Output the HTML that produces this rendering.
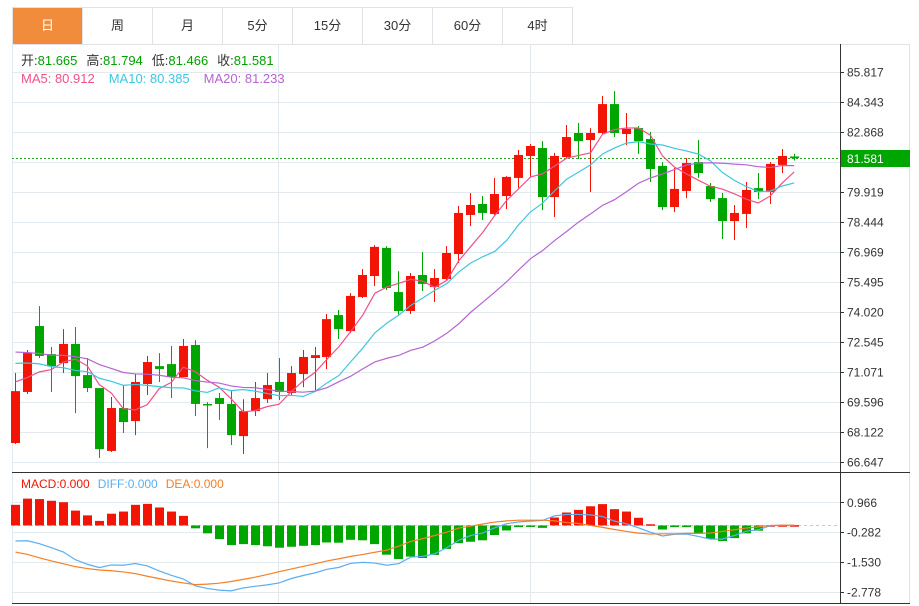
<!DOCTYPE html>
<html><head><meta charset="utf-8"><style>
body{margin:0;background:#fff;width:919px;height:606px;overflow:hidden;font-family:"Liberation Sans","Noto Sans CJK SC",sans-serif}
#tabs{position:absolute;left:12px;top:7px;height:36px;display:flex;border:1px solid #dfe3e8;border-right:none}
.tab{width:69px;height:36px;border-right:1px solid #dfe3e8;text-align:center;line-height:36px;font-size:13px;color:#333;cursor:pointer}
.tab.on{background:#f08c3c;color:#fff}
svg{position:absolute;left:0;top:0}
</style></head><body>
<div id="tabs">
<div class="tab on">日</div>
<div class="tab">周</div>
<div class="tab">月</div>
<div class="tab">5分</div>
<div class="tab">15分</div>
<div class="tab">30分</div>
<div class="tab">60分</div>
<div class="tab">4时</div>
</div>
<svg id="chart" width="919" height="606" font-family="Liberation Sans, Noto Sans CJK SC, sans-serif"></svg>
<script>
const opens=[67.58,70.09,73.33,71.95,71.51,72.45,70.92,70.28,67.19,69.30,68.66,70.48,71.36,71.46,70.82,72.40,69.50,69.79,69.50,67.92,69.15,69.74,70.58,70.04,70.97,71.76,71.81,73.87,73.08,74.76,75.79,77.17,75.00,74.07,75.84,75.25,75.64,76.87,78.79,79.33,78.84,79.72,80.61,81.69,82.08,79.67,81.64,82.82,82.47,82.82,84.24,82.77,83.06,82.52,81.20,79.18,79.97,81.39,80.21,79.62,78.49,78.84,80.11,79.92,81.25,81.665];
const highs=[71.02,72.15,74.31,72.30,73.18,73.28,71.76,70.28,69.84,70.43,70.97,71.86,72.00,72.35,72.69,72.64,69.59,70.04,70.13,69.74,70.58,71.02,71.76,71.36,72.15,72.30,73.92,74.12,74.95,76.13,77.31,77.26,76.03,75.94,76.97,76.13,77.26,79.23,79.87,79.72,80.61,80.70,81.98,82.28,82.42,81.84,83.21,83.31,83.06,84.64,84.88,83.80,83.16,82.87,81.39,81.10,81.59,82.47,80.36,79.87,79.28,80.41,80.85,81.39,82.03,81.794];
const lows=[67.53,69.99,71.76,70.09,71.02,69.05,70.09,66.85,67.14,68.07,67.97,69.94,70.58,69.79,70.82,68.91,67.33,68.71,67.48,67.04,68.91,69.55,69.69,69.94,70.33,70.18,71.22,72.69,72.99,74.71,75.30,75.10,73.87,73.92,75.05,74.51,75.55,76.43,78.25,78.54,78.79,79.08,80.11,80.66,79.03,78.69,81.59,81.54,79.92,82.77,82.62,82.23,81.79,80.41,79.03,78.93,79.62,80.61,79.43,77.61,77.56,78.15,79.57,79.33,80.85,81.466];
const closes=[70.13,72.00,71.86,71.36,72.45,70.87,70.28,67.28,69.30,68.61,70.58,71.56,71.22,70.82,72.35,69.50,69.45,69.50,67.97,69.15,69.79,70.43,70.09,71.02,71.81,71.90,73.67,73.18,74.81,75.84,77.22,75.20,74.07,75.79,75.40,75.69,76.92,78.89,79.28,78.89,79.82,80.66,81.74,82.18,79.67,81.69,82.62,82.42,82.82,84.24,82.82,83.02,82.42,81.05,79.18,80.07,81.34,80.85,79.57,78.49,78.89,80.02,79.92,81.30,81.69,81.581];
const prevCloses=[72.5,72.8,73.0,72.6,72.2,72.4,72.9,73.1,72.6,72.0,71.8,72.3,72.7,73.0,72.2,70.9,70.5,70.8,70.6];
const macdHist=[0.86,1.12,1.10,1.03,0.97,0.62,0.42,0.19,0.49,0.58,0.86,0.90,0.75,0.58,0.40,-0.12,-0.33,-0.57,-0.82,-0.78,-0.82,-0.87,-0.93,-0.89,-0.85,-0.82,-0.71,-0.72,-0.60,-0.62,-0.78,-1.22,-1.40,-1.30,-1.36,-1.23,-0.98,-0.74,-0.68,-0.62,-0.40,-0.21,-0.07,-0.01,-0.10,0.33,0.54,0.65,0.80,0.89,0.68,0.58,0.32,0.05,-0.17,-0.07,-0.07,-0.32,-0.55,-0.65,-0.53,-0.33,-0.22,0.01,0.01,0.01];
const diffVals=[-0.65,-0.64,-0.76,-0.93,-1.11,-1.43,-1.62,-1.76,-1.65,-1.66,-1.59,-1.69,-1.90,-2.08,-2.23,-2.52,-2.63,-2.70,-2.73,-2.61,-2.54,-2.48,-2.40,-2.22,-2.09,-1.98,-1.83,-1.75,-1.58,-1.54,-1.57,-1.66,-1.59,-1.32,-1.29,-1.18,-0.93,-0.62,-0.42,-0.32,-0.10,0.07,0.15,0.18,0.21,0.40,0.46,0.46,0.44,0.37,0.18,0.07,-0.10,-0.28,-0.44,-0.37,-0.36,-0.46,-0.57,-0.57,-0.42,-0.24,-0.18,-0.01,0.01,0.01];
const deaVals=[-1.11,-1.21,-1.35,-1.48,-1.60,-1.72,-1.80,-1.86,-1.89,-1.94,-2.01,-2.12,-2.22,-2.32,-2.40,-2.47,-2.45,-2.41,-2.34,-2.25,-2.16,-2.05,-1.93,-1.82,-1.71,-1.60,-1.48,-1.39,-1.29,-1.21,-1.12,-1.03,-0.86,-0.67,-0.55,-0.42,-0.28,-0.11,-0.03,0.06,0.14,0.19,0.22,0.22,0.22,0.19,0.12,0.08,0.00,-0.08,-0.17,-0.25,-0.32,-0.36,-0.35,-0.35,-0.33,-0.33,-0.32,-0.25,-0.18,-0.11,-0.06,0.00,0.01,0.01];
const priceTicks=["85.817","84.343","82.868","81.393","79.919","78.444","76.969","75.495","74.020","72.545","71.071","69.596","68.122","66.647"];
const macdTicks=["0.966","-0.282","-1.530","-2.778"];
const lastPrice=81.581;

const NS='http://www.w3.org/2000/svg';
const svg=document.getElementById('chart');
function mk(tag,attrs,parent){const e=document.createElementNS(NS,tag);for(const k in attrs)e.setAttribute(k,attrs[k]);(parent||svg).appendChild(e);return e;}
const PMAX=85.817,PMIN=66.647,PY0=72,PY1=462;
function yP(p){return PY0+(PMAX-p)*(PY1-PY0)/(PMAX-PMIN);}
function yM(v){return 502.3+(0.966-v)*(592-502.3)/(0.966+2.778);}
function xI(i){return 15+i*11.98;}
const L=12,R=840;
// frame
let f=mk('rect',{x:12.5,y:44.5,width:897,height:559,fill:'none',stroke:'#dfe3e8'});


// grid
const grid=mk('g',{stroke:'#e2eaf0','stroke-width':1});


priceTicks.forEach(t=>{const y=Math.round(yP(parseFloat(t)))+0.5;mk('line',{x1:L,x2:R,y1:y,y2:y},grid);});
macdTicks.forEach(t=>{const y=Math.round(yM(parseFloat(t)))+0.5;mk('line',{x1:L,x2:R,y1:y,y2:y},grid);});
[278.5,530.5].forEach(x=>mk('line',{x1:x,x2:x,y1:44,y2:603},grid));
mk('line',{x1:12.5,x2:12.5,y1:44,y2:603},grid);
// axes
let ax=mk('line',{x1:840.5,x2:840.5,y1:44,y2:604,stroke:'#333'});


let sep=mk('line',{x1:12,x2:910,y1:472.5,y2:472.5,stroke:'#333'});


let bot=mk('line',{x1:12,x2:910,y1:603.5,y2:603.5,stroke:'#333'});


// price tick labels
priceTicks.forEach(t=>{const y=yP(parseFloat(t));
 mk('line',{x1:840,x2:844,y1:Math.round(y)+0.5,y2:Math.round(y)+0.5,stroke:'#333'});
 const tx=mk('text',{x:847,y:y+4.5,'font-size':12,fill:'#333'});tx.textContent=t;
 
 });
macdTicks.forEach(t=>{const y=yM(parseFloat(t));
 mk('line',{x1:840,x2:844,y1:Math.round(y)+0.5,y2:Math.round(y)+0.5,stroke:'#333'});
 const tx=mk('text',{x:847,y:y+4.5,'font-size':12,fill:'#333'});tx.textContent=t;
 
 });
// last price line and box
const ly=Math.round(yP(lastPrice))+0.5;
let lpl=mk('line',{x1:L,x2:R,y1:ly,y2:ly,stroke:'#2da52d','stroke-dasharray':'2,2'});


let lpb=mk('rect',{x:841,y:ly-8.5,width:69,height:17,fill:'#00a600'});


let lpt=mk('text',{x:847,y:ly+4.5,'font-size':12,fill:'#fff'});lpt.textContent=lastPrice.toFixed(3);


// candles
const cg=mk('g',{});


closes.forEach((c,i)=>{const o=opens[i],up=c>=o,col=up?'#f21405':'#00a600';const x=Math.round(xI(i));
 const g=mk('g',{},cg);
 
 
 mk('line',{x1:x+0.5,x2:x+0.5,y1:yP(highs[i]),y2:yP(lows[i]),stroke:col},g);
 const t=yP(Math.max(o,c)),b=yP(Math.min(o,c));
 mk('rect',{x:x-4,y:t,width:9,height:Math.max(1.5,b-t),fill:col},g);});
// MAs
const all=prevCloses.concat(closes),off=prevCloses.length;
function ma(n){return closes.map((_,i)=>{const j=i+off;let s=0,k=0;for(let q=Math.max(0,j-n+1);q<=j;q++){s+=all[q];k++;}return s/k;});}
[[5,'#f0508a','ma5-line'],[10,'#3fc6df','ma10-line'],[20,'#b564d2','ma20-line']].forEach(([n,col,nm])=>{
 const v=ma(n);const p=mk('polyline',{points:v.map((m,i)=>xI(i)+0.5+','+yP(m)).join(' '),fill:'none',stroke:col,'stroke-width':1.2});
 
 });
// MACD
const z=yM(0);
let zl=mk('line',{x1:L,x2:R,y1:z,y2:z,stroke:'#a8d4ea','stroke-dasharray':'3,3'});


const hg=mk('g',{});


macdHist.forEach((v,i)=>{const x=Math.round(xI(i));const y=yM(v);
 const r=mk('rect',{x:x-4,y:Math.min(y,z),width:9,height:Math.max(1.5,Math.abs(y-z)),fill:v>=0?'#f21405':'#00a600'},hg);
 
 });
let dl=mk('polyline',{points:diffVals.map((v,i)=>xI(i)+0.5+','+yM(v)).join(' '),fill:'none',stroke:'#5aaef0','stroke-width':1.2});


let el=mk('polyline',{points:deaVals.map((v,i)=>xI(i)+0.5+','+yM(v)).join(' '),fill:'none',stroke:'#f57f25','stroke-width':1.2});


// legends
function legend(y,items,nm){const t=mk('text',{x:21,y:y,'font-size':13});
 items.forEach(([s,c,gap])=>{const ts=mk('tspan',{fill:c},t);if(gap)ts.setAttribute('dx',gap);ts.textContent=s;});}
legend(65,[['开:','#333'],['81.665','#00a000'],['高:','#333',9],['81.794','#00a000'],['低:','#333',9],['81.466','#00a000'],['收:','#333',9],['81.581','#00a000']],'ohlc-legend');
legend(83,[['MA5: 80.912','#f0508a'],['MA10: 80.385','#3fc6df',14],['MA20: 81.233','#b564d2',14]],'ma-legend');
const ml=mk('text',{x:21,y:488,'font-size':12});
[['MACD:0.000','#f21405',0],['DIFF:0.000','#5aaef0',8],['DEA:0.000','#f57f25',8]].forEach(([s,c,g])=>{const ts=mk('tspan',{fill:c,dx:g},ml);ts.textContent=s;});
</script>
</body></html>
